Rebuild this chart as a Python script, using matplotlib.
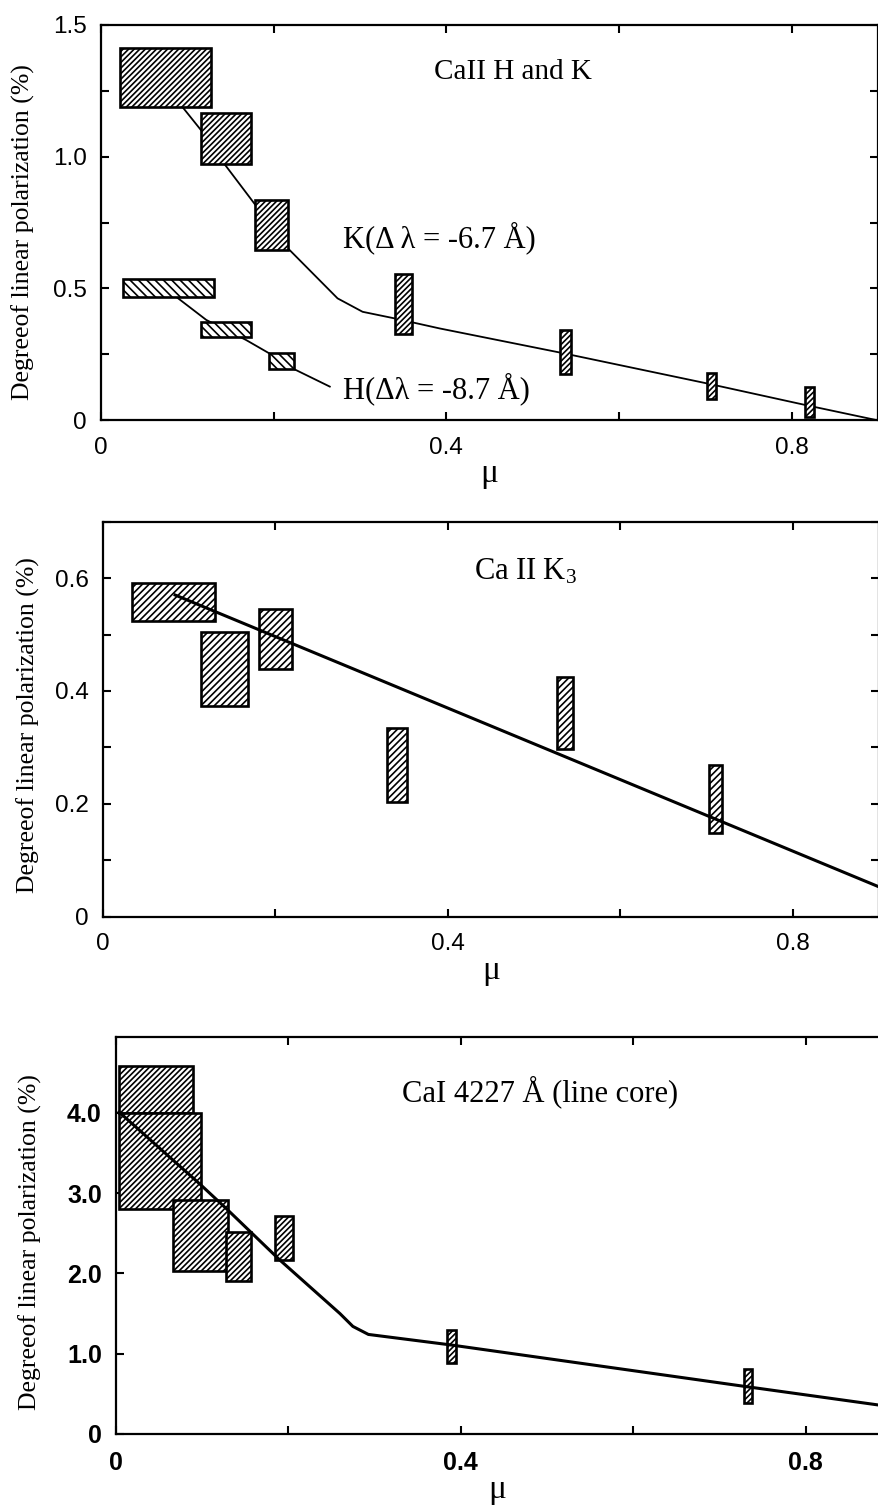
import matplotlib
matplotlib.use("Agg")
import matplotlib.pyplot as plt
from matplotlib.patches import Rectangle
import numpy as np

plt.rcParams['hatch.linewidth'] = 1.2
plt.rcParams['mathtext.fontset'] = 'stix'

# ---------------- panel 1 : CaII H and K ----------------
k_x_lo = [0.022, 0.116, 0.178, 0.340, 0.532, 0.702, 0.815]
k_x_hi = [0.127, 0.174, 0.217, 0.360, 0.544, 0.712, 0.826]
k_y_lo = [1.19, 0.972, 0.646, 0.327, 0.174, 0.079, 0.010]
k_y_hi = [1.414, 1.165, 0.836, 0.553, 0.342, 0.177, 0.127]

h_x_lo = [0.025, 0.116, 0.195]
h_x_hi = [0.131, 0.174, 0.223]
h_y_lo = [0.468, 0.316, 0.194]
h_y_hi = [0.537, 0.371, 0.253]

k_mu = [0.094, 0.116, 0.143, 0.176, 0.2165, 0.274, 0.303, 0.340, 0.392, 0.532, 0.702, 0.816, 0.898]
k_p = [1.19, 1.10, 0.972, 0.829, 0.652, 0.462, 0.411, 0.386, 0.348, 0.256, 0.139, 0.057, 0.0]
h_mu = [0.087, 0.122, 0.168, 0.195, 0.222, 0.265]
h_p = [0.468, 0.380, 0.304, 0.253, 0.196, 0.127]

# ---------------- panel 2 : Ca II K3 ----------------
k3_x_lo = [0.034, 0.114, 0.181, 0.330, 0.527, 0.703]
k3_x_hi = [0.130, 0.168, 0.220, 0.353, 0.545, 0.718]
k3_y_lo = [0.524, 0.373, 0.439, 0.204, 0.298, 0.149]
k3_y_hi = [0.592, 0.504, 0.545, 0.335, 0.424, 0.269]
k3_mu = [0.084, 0.9]
k3_p = [0.570, 0.053]

# ---------------- panel 3 : CaI 4227 ----------------
ca_x_lo = [0.004, 0.004, 0.066, 0.128, 0.185, 0.384, 0.729]
ca_x_hi = [0.090, 0.099, 0.130, 0.157, 0.206, 0.395, 0.738]
ca_y_lo = [4.0, 2.80, 2.03, 1.905, 2.17, 0.89, 0.39]
ca_y_hi = [4.58, 4.0, 2.91, 2.51, 2.72, 1.30, 0.81]
ca_mu = [0.004, 0.099, 0.130, 0.190, 0.260, 0.275, 0.293, 0.388, 0.731, 0.885]
ca_p = [4.01, 3.10, 2.79, 2.17, 1.50, 1.34, 1.24, 1.11, 0.59, 0.36]

x_ticks = [0, 0.4, 0.8]
x_labels = ['0', '0.4', '0.8']
y1_ticks = [0, 0.5, 1.0, 1.5]
y1_labels = ['0', '0.5', '1.0', '1.5']
y2_ticks = [0, 0.2, 0.4, 0.6]
y2_labels = ['0', '0.2', '0.4', '0.6']
y3_ticks = [0, 1, 2, 3, 4]
y3_labels = ['0', '1.0', '2.0', '3.0', '4.0']

ylabel = 'Degreeof linear polarization (%)'
serif = 'Liberation Serif'
sans = 'Liberation Sans'


def boxes(ax, xlo, xhi, ylo, yhi, hatch, z=3):
    for a, b, c, d in zip(xlo, xhi, ylo, yhi):
        ax.add_patch(Rectangle((a, c), b - a, d - c, facecolor='white',
                               edgecolor='black', hatch=hatch, lw=1.9, zorder=z))


def style(ax, xmax, ymax, yt, yl, ymin_step, right=True, bold=False, tsize=17.5):
    ax.set_xlim(0, xmax)
    ax.set_ylim(0, ymax)
    for s in ax.spines.values():
        s.set_linewidth(1.6)
    if not right:
        ax.spines['right'].set_visible(False)
    ax.set_xticks(x_ticks)
    ax.set_xticklabels(x_labels)
    ax.set_xticks(np.arange(0, xmax + 1e-6, 0.2), minor=True)
    ax.set_yticks(yt)
    ax.set_yticklabels(yl)
    if ymin_step:
        ax.set_yticks(np.arange(0, ymax + 1e-6, ymin_step), minor=True)
    ax.tick_params(which='both', direction='in', top=True, right=right,
                   length=6, width=1.5)
    ax.tick_params(axis='x', pad=12)
    ax.tick_params(axis='y', pad=10)
    for lab in ax.get_xticklabels() + ax.get_yticklabels():
        lab.set_fontfamily(sans)
        lab.set_fontsize(tsize)
        if bold:
            lab.set_fontweight('bold')
    ax.set_ylabel(ylabel, fontfamily=serif, fontsize=18.5)
    ax.set_xlabel('μ', fontfamily=serif, fontsize=24, labelpad=0)


fig = plt.figure(figsize=(8.79, 15.05), dpi=100)

# panel 1
ax1 = fig.add_axes([0.1149, 0.7209, 0.884, 0.2625])
ax1.plot(k_mu, k_p, color='black', lw=1.3, zorder=2)
ax1.plot(h_mu, h_p, color='black', lw=1.3, zorder=2)
boxes(ax1, k_x_lo, k_x_hi, k_y_lo, k_y_hi, '//////')
boxes(ax1, h_x_lo, h_x_hi, h_y_lo, h_y_hi, '\\\\\\\\')
style(ax1, 0.9, 1.5, y1_ticks, y1_labels, 0.25)
ax1.text(0.477, 1.32, 'CaII H and K', fontfamily=serif, fontsize=21,
         ha='center', va='center')
ax1.text(0.28, 0.69, 'K(Δ λ = -6.7 Å)', fontfamily=serif, fontsize=22,
         ha='left', va='center')
ax1.text(0.28, 0.12, 'H(Δλ = -8.7 Å)', fontfamily=serif, fontsize=22,
         ha='left', va='center')
ax1.yaxis.set_label_coords(-0.085, 0.477)

# panel 2
ax2 = fig.add_axes([0.1168, 0.3909, 0.883, 0.2625])
boxes(ax2, k3_x_lo, k3_x_hi, k3_y_lo, k3_y_hi, '/////', z=2)
ax2.plot(k3_mu, k3_p, color='black', lw=2.2, zorder=3)
style(ax2, 0.9, 0.7, y2_ticks, y2_labels, 0.1)
ax2.text(0.49, 0.61, r'Ca II K$_{\mathregular{3}}$', fontfamily=serif, fontsize=22,
         ha='center', va='center')
ax2.yaxis.set_label_coords(-0.081, 0.486)

# panel 3
ax3 = fig.add_axes([0.1316, 0.0472, 0.8684, 0.264])
boxes(ax3, ca_x_lo, ca_x_hi, ca_y_lo, ca_y_hi, '//////', z=2)
ax3.plot(ca_mu, ca_p, color='black', lw=2.2, zorder=3)
style(ax3, 0.885, 4.95, y3_ticks, y3_labels, None, right=False, bold=True, tsize=18)
ax3.text(0.492, 4.26, 'CaI 4227 Å (line core)', fontfamily=serif, fontsize=22,
         ha='center', va='center')
ax3.yaxis.set_label_coords(-0.097, 0.482)

fig.savefig('out.png', dpi=100)
